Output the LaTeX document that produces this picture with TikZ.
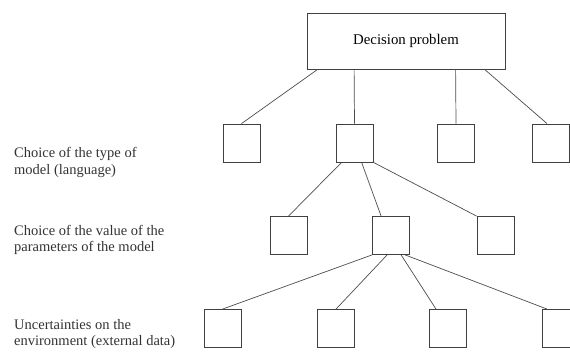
\documentclass[tikz,border=0pt]{standalone}
\usepackage{fontspec}
\setmainfont{Liberation Serif}
\begin{document}
\begin{tikzpicture}[x=1pt,y=-1pt,
  box/.style={draw=black!75,line width=0.8pt,minimum width=37pt,minimum height=38pt,inner sep=0pt},
  topbox/.style={draw=black!75,line width=0.8pt,minimum width=198pt,minimum height=56pt,inner sep=0pt,font=\fontsize{14.8}{16}\selectfont},
  link/.style={draw=black!70,line width=0.7pt},
  lbl/.style={anchor=west,align=left,inner sep=0pt,text=black!80,font=\fontsize{14.5}{16.5}\selectfont}]
\useasboundingbox (0,0) rectangle (570,352);
\node[topbox] (top) at (406,41) {Decision problem};
\node[box] (a1) at (241.5,143) {};
\node[box] (a2) at (354.5,143) {};
\node[box] (a3) at (456,143) {};
\node[box] (a4) at (551,143) {};
\node[box] (b1) at (288.5,235.5) {};
\node[box] (b2) at (391,235.5) {};
\node[box] (b3) at (495.5,235.5) {};
\node[box] (c1) at (222.5,328.5) {};
\node[box] (c2) at (336,328.5) {};
\node[box] (c3) at (448,328.5) {};
\node[box] (c4) at (561,328.5) {};
\draw[link] ([xshift=11pt]top.south west) -- (a1.north);
\draw[link] ([xshift=47.5pt]top.south west) -- (a2.north);
\draw[link] ([xshift=149pt]top.south west) -- (a3.north);
\draw[link] ([xshift=178pt]top.south west) -- ([xshift=-4pt]a4.north);
\draw[link] ([xshift=6pt]a2.south west) -- (b1.north);
\draw[link] ([xshift=26pt]a2.south west) -- ([xshift=9pt]b2.north west);
\draw[link] (a2.south east) -- (b3.north west);
\draw[link] (b2.south west) -- (c1.north);
\draw[link] ([xshift=15pt]b2.south west) -- (c2.north);
\draw[link] ([xshift=29pt]b2.south west) -- ([xshift=-12pt]c3.north);
\draw[link] ([xshift=33pt]b2.south west) -- ([xshift=5pt]c4.north west);
\node[lbl] (l1) at (14,162.5) {Choice of the type of\\model (language)};
\node[lbl] (l2) at (14,240) {Choice of the value of the\\parameters of the model};
\node[lbl] (l3) at (14,334) {Uncertainties on the\\environment (external data)};
\end{tikzpicture}
\end{document}
